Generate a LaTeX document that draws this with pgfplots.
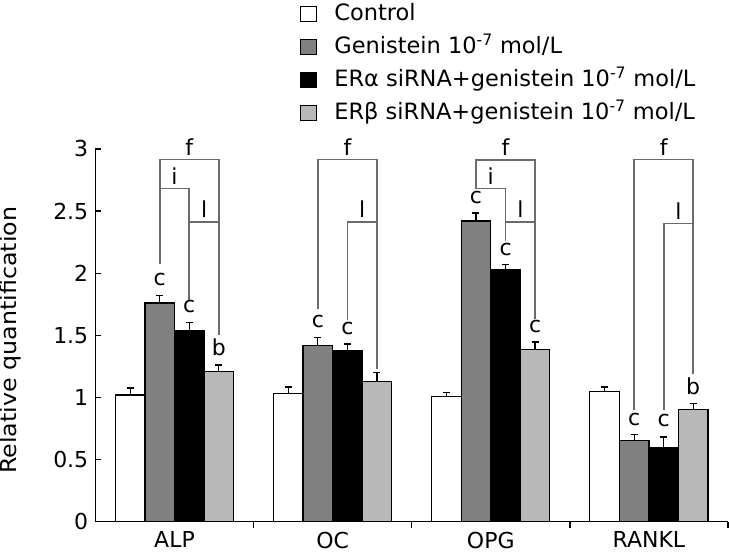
\documentclass[border=0pt]{standalone}
\usepackage{pgfplots}
\pgfplotsset{compat=1.18}
\usepackage{pgfplotstable}
\usepackage{fontspec}
\setmainfont{DejaVu Sans}
\newfontfamily\ylabfont[FakeStretch=1.08]{DejaVu Sans}

\pgfplotstableread{
x y err
0 1.02 0.055
1 1.03 0.055
2 1.01 0.03
3 1.05 0.035
}\ctrl
\pgfplotstableread{
x y err
0 1.76 0.06
1 1.42 0.06
2 2.42 0.065
3 0.65 0.05
}\gen
\pgfplotstableread{
x y err
0 1.54 0.065
1 1.38 0.05
2 2.03 0.04
3 0.60 0.08
}\era
\pgfplotstableread{
x y err
0 1.21 0.05
1 1.13 0.07
2 1.386 0.06
3 0.90 0.05
}\erb

\definecolor{gmid}{gray}{0.50}
\definecolor{glight}{gray}{0.72}
\definecolor{brk}{gray}{0.42}

\begin{document}
\fontsize{21}{25}\selectfont
\begin{tikzpicture}[brk/.style={draw=brk,line width=1.6pt},
  lab/.style={anchor=base,inner sep=0pt,font=\fontsize{22}{26}\selectfont}]
\begin{axis}[
  scale only axis, width=633pt, height=373pt,
  xmin=-0.5, xmax=3.5, ymin=0, ymax=3,
  axis x line=bottom, axis y line=left,
  axis line style={-, line width=1.3pt, black},
  tick align=inside, major tick length=6pt,
  tick style={line width=1.3pt, black},
  ytick={0,0.5,1,1.5,2,2.5,3},
  yticklabels={0,0.5,1,1.5,2,2.5,3},
  xtick={0.5,1.5,2.5,3.5}, xticklabels={},
  extra x ticks={0,1,2,3},
  extra x tick labels={ALP,OC,OPG,RANKL},
  extra x tick style={major tick length=0pt},
  ticklabel style={font=\fontsize{22}{26}\selectfont},
  xticklabel style={inner sep=0pt, yshift=-10pt},
  /pgf/number format/assume math mode=true,
  ylabel={Relative quantification},
  ylabel style={at={(axis description cs:0,0.5)}, anchor=south, inner sep=0pt, yshift=74pt, xshift=-5pt, font=\ylabfont\fontsize{22}{26}\selectfont},
  clip=false,
  ybar, bar width=0.187,
  error bars/y dir=plus, error bars/y explicit,
  error bars/error bar style={line width=1.2pt, black},
  error bars/error mark options={rotate=90, mark size=3.5pt, line width=1.4pt, black},
  legend image code/.code={\draw[#1,/tikz/.cd,draw=black,line width=1.2pt] (0pt,-7.5pt) rectangle (16pt,7.5pt);},
  legend cell align=left,
  legend style={at={(axis description cs:0.3234,1.3968)}, anchor=north west, draw=none, fill=none,
    inner sep=0pt, row sep=7pt, column sep=15pt, font=\fontsize{22.5}{27}\selectfont,
    nodes={inner sep=2pt, text height=17pt, text depth=5pt}},
]
\addplot[fill=white, draw=black, line width=1.2pt, bar shift=-0.28] table[x=x,y=y,y error=err]{\ctrl};
\addlegendentry{Control}
\addplot[fill=gmid, draw=black, line width=1.2pt, bar shift=-0.0935] table[x=x,y=y,y error=err]{\gen};
\addlegendentry{Genistein 10\textsuperscript{-7} mol/L}
\addplot[fill=black, draw=black, line width=1.2pt, bar shift=0.0935] table[x=x,y=y,y error=err]{\era};
\addlegendentry{ERα siRNA+genistein 10\textsuperscript{-7} mol/L}
\addplot[fill=glight, draw=black, line width=1.2pt, bar shift=0.28] table[x=x,y=y,y error=err]{\erb};
\addlegendentry{ERβ siRNA+genistein 10\textsuperscript{-7} mol/L}

% page frame of the reference (729 x 558), axis origin 95 from the left, 36 from the bottom
\path (rel axis cs:0,0) ++(-95pt,-36pt) rectangle ++(729pt,558pt);

% ALP
\draw[brk] (axis cs:-0.0935,2.075) -- (axis cs:-0.0935,2.915) -- (axis cs:0.28,2.915) -- (axis cs:0.28,1.50);
\draw[brk] (axis cs:-0.0935,2.68) -- (axis cs:0.0935,2.68) -- (axis cs:0.0935,1.78);
\draw[brk] (axis cs:0.0935,2.41) -- (axis cs:0.28,2.41);
\node[lab] at (axis cs:0.0935,2.95) {f};
\node[lab] at (axis cs:0,2.715) {i};
\node[lab] at (axis cs:0.187,2.445) {l};
\node[lab] at (axis cs:-0.0935,1.90) {c};
\node[lab] at (axis cs:0.0935,1.685) {c};
\node[lab] at (axis cs:0.28,1.34) {b};
% OC
\draw[brk] (axis cs:0.9065,1.71) -- (axis cs:0.9065,2.915) -- (axis cs:1.28,2.915) -- (axis cs:1.28,1.23);
\draw[brk] (axis cs:1.0935,1.62) -- (axis cs:1.0935,2.41) -- (axis cs:1.28,2.41);
\node[lab] at (axis cs:1.0935,2.95) {f};
\node[lab] at (axis cs:1.187,2.445) {l};
\node[lab] at (axis cs:0.9065,1.565) {c};
\node[lab] at (axis cs:1.0935,1.51) {c};
% OPG
\draw[brk] (axis cs:1.9065,2.68) -- (axis cs:1.9065,2.91) -- (axis cs:2.28,2.91) -- (axis cs:2.28,1.63);
\draw[brk] (axis cs:1.9065,2.68) -- (axis cs:2.0935,2.68) -- (axis cs:2.0935,2.26);
\draw[brk] (axis cs:2.0935,2.41) -- (axis cs:2.28,2.41);
\node[lab] at (axis cs:2.0935,2.945) {f};
\node[lab] at (axis cs:2,2.715) {i};
\node[lab] at (axis cs:2.187,2.445) {l};
\node[lab] at (axis cs:1.9065,2.56) {c};
\node[lab] at (axis cs:2.0935,2.14) {c};
\node[lab] at (axis cs:2.28,1.52) {c};
% RANKL
\draw[brk] (axis cs:2.9065,0.895) -- (axis cs:2.9065,2.915) -- (axis cs:3.28,2.915) -- (axis cs:3.28,1.19);
\draw[brk] (axis cs:3.0935,0.895) -- (axis cs:3.0935,2.40) -- (axis cs:3.28,2.40);
\node[lab] at (axis cs:3.0935,2.95) {f};
\node[lab] at (axis cs:3.187,2.435) {l};
\node[lab] at (axis cs:2.9065,0.775) {c};
\node[lab] at (axis cs:3.0935,0.765) {c};
\node[lab] at (axis cs:3.28,1.02) {b};
\end{axis}
\end{tikzpicture}
\end{document}
